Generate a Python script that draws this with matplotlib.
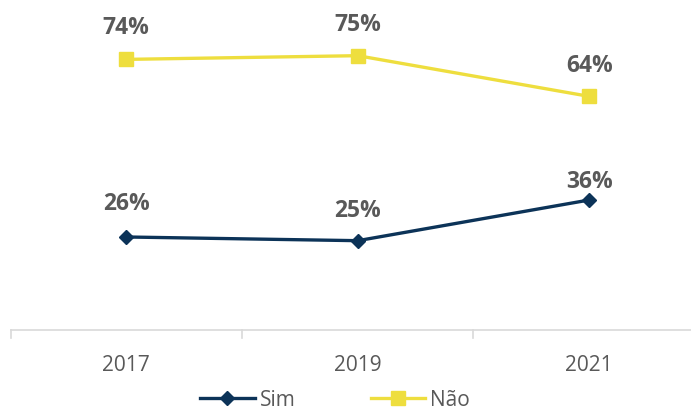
import matplotlib
matplotlib.use("Agg")
import matplotlib.pyplot as plt
import matplotlib.transforms as mtrans
from matplotlib.lines import Line2D

categories = ["2017", "2019", "2021"]
sim = [26, 25, 36]
nao = [74, 75, 64]
series_names = ["Sim", "Não"]

plt.rcParams['font.family'] = ['Open Sans', 'DejaVu Sans']

navy = "#0C3358"
yellow = "#EEDE3E"
gray = "#595959"
axis_gray = "#D9D9D9"

W, H = 691, 413
fig = plt.figure(figsize=(W / 100, H / 100), dpi=100)
ax_bottom_px = 330
ax = fig.add_axes([10.5 / W, 1 - ax_bottom_px / H, (W - 10.5) / W, ax_bottom_px / H])

x = list(range(len(categories)))
ax.plot(x, sim, color=navy, lw=2.4, marker="D", ms=7.5, label=series_names[0], zorder=3)
ax.plot(x, nao, color=yellow, lw=2.4, marker="s", ms=9.5, label=series_names[1], zorder=3)

# label offsets (points above the marker, to the text baseline)
sim_offsets = [19.4, 17.3, 8.6]
nao_offsets = [18.0, 18.0, 17.8]
for xi, v, off in zip(x, sim, sim_offsets):
    ax.annotate(f"{v}%", (xi, v), xytext=(0, off), textcoords="offset points",
                ha="center", va="baseline", fontsize=16.5, fontweight="bold", color=gray)
for xi, v, off in zip(x, nao, nao_offsets):
    ax.annotate(f"{v}%", (xi, v), xytext=(0, off), textcoords="offset points",
                ha="center", va="baseline", fontsize=16.5, fontweight="bold", color=gray)

ax.set_ylim(0.86, 90.05)
ax.set_xlim(-0.5, -0.5 + (W - 10.5) / 231.5)
for s in ["top", "right", "left"]:
    ax.spines[s].set_visible(False)
ax.spines["bottom"].set_color(axis_gray)
ax.spines["bottom"].set_linewidth(1.2)
ax.set_yticks([])
ax.set_xticks(x)
ax.set_xticklabels(categories, fontsize=15, color=gray)
ax.tick_params(axis="x", length=0, pad=18)

trans = mtrans.blended_transform_factory(ax.transData, mtrans.IdentityTransform())
for b in [-0.5, 0.5, 1.5]:
    ax.add_line(Line2D([b, b], [H - ax_bottom_px, H - ax_bottom_px - 8], transform=trans,
                       color=axis_gray, lw=1.2, clip_on=False))

handles = [Line2D([], [], color=navy, lw=2.4, marker="D", ms=7.5),
           Line2D([], [], color=yellow, lw=2.4, marker="s", ms=9.5)]
fig.legend(handles, series_names, loc="center", bbox_to_anchor=(335 / W, 1 - 400 / H),
           ncol=2, frameon=False, fontsize=15, labelcolor=gray, handlelength=2.6,
           handletextpad=0.25, columnspacing=3.6, borderpad=0)

fig.savefig("out.png", dpi=100)
